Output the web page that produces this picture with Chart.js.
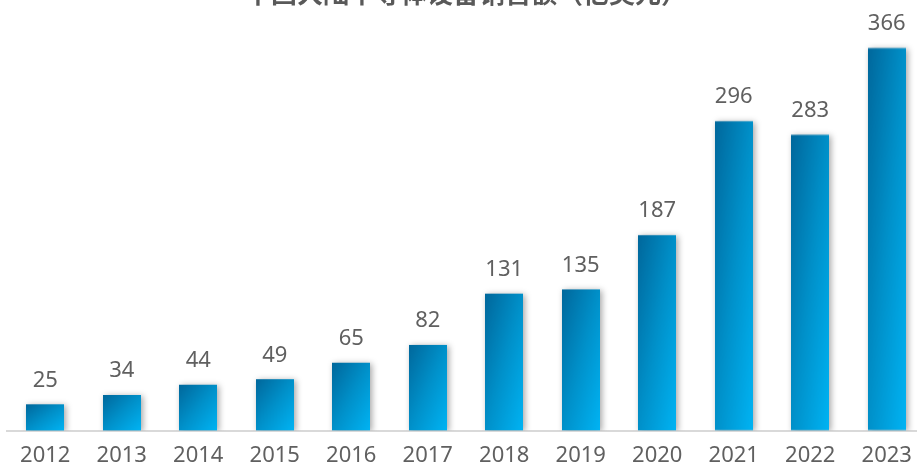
<!DOCTYPE html>
<html><head><meta charset="utf-8">
<script src="https://cdn.jsdelivr.net/npm/chart.js@4/dist/chart.umd.min.js"></script>
<style>
html,body{margin:0;padding:0;overflow:hidden;width:917px;height:463px;background:#fff;}
#wrap{position:absolute;left:0;top:-22px;width:925px;height:503px;}
</style></head>
<body>
<div id="wrap"><canvas id="c"></canvas></div>
<script>
const titleText = "中国大陆半导体设备销售额（亿美元）";
const years = ["2012","2013","2014","2015","2016","2017","2018","2019","2020","2021","2022","2023"];
const sales = [25,34,44,49,65,82,131,135,187,296,283,366];

// gradient tile, stretched onto each bar (shape-scaled diagonal gradient)
const tile = document.createElement("canvas");
tile.width = 100; tile.height = 100;
(function(){
  const t = tile.getContext("2d");
  const g = t.createLinearGradient(0, 0, 100, 100);
  g.addColorStop(0, "#00679b");
  g.addColorStop(0.5, "#0090c9");
  g.addColorStop(1, "#00b3f3");
  t.fillStyle = g; t.fillRect(0, 0, 100, 100);
})();
const BAR_W = 38;

function barFill(ctx){
  const chart = ctx.chart;
  const xs = chart.scales && chart.scales.x, ys = chart.scales && chart.scales.y;
  if (!chart.chartArea || !xs || !ys || ctx.dataIndex === undefined) return "#0090c9";
  const cx = xs.getPixelForValue(ctx.dataIndex);
  const top = ys.getPixelForValue(sales[ctx.dataIndex]);
  const bottom = ys.getPixelForValue(0);
  const p = chart.ctx.createPattern(tile, "no-repeat");
  const h = Math.max(1, bottom - top);
  p.setTransform(new DOMMatrix([BAR_W / 100, 0, 0, h / 100, cx - BAR_W / 2, top]));
  return p;
}

const shadowPlugin = {
  id: "shadow",
  beforeDatasetsDraw(chart){
    const c = chart.ctx; c.save();
    c.shadowColor = "rgba(0,0,0,0.35)"; c.shadowBlur = 6; c.shadowOffsetX = 2; c.shadowOffsetY = 1;
  },
  afterDatasetsDraw(chart){
    chart.ctx.restore();
    const c = chart.ctx;
    const meta = chart.getDatasetMeta(0);
    c.save();
    c.font = "22px 'Noto Sans'";
    c.fillStyle = "#606060";
    c.textAlign = "center"; c.textBaseline = "middle";
    meta.data.forEach((el, i) => {
      c.fillText(String(sales[i]), el.x, el.y - 24);
    });
    c.restore();
  }
};

new Chart(document.getElementById("c"), {
  type: "bar",
  data: { labels: years, datasets: [{ data: sales, backgroundColor: barFill, barThickness: BAR_W, borderWidth: 0 }] },
  options: {
    responsive: true, maintainAspectRatio: false, animation: false,
    layout: { padding: { left: 7, right: 0, top: 0, bottom: 0 } },
    plugins: {
      legend: { display: false }, tooltip: { enabled: false },
      title: { display: true, text: titleText, color: "#595959",
        font: { family: "'Noto Sans CJK SC'", size: 26, weight: "bold" }, padding: { top: 0, bottom: 3 } }
    },
    scales: {
      x: { grid: { display: false, drawTicks: false }, border: { display: true, color: "#d9d9d9", width: 2 },
        ticks: { color: "#606060", font: { family: "'Noto Sans'", size: 22 }, padding: 12 } },
      y: { display: false, min: 0, max: 400 }
    }
  },
  plugins: [shadowPlugin]
});
</script>
</body></html>
